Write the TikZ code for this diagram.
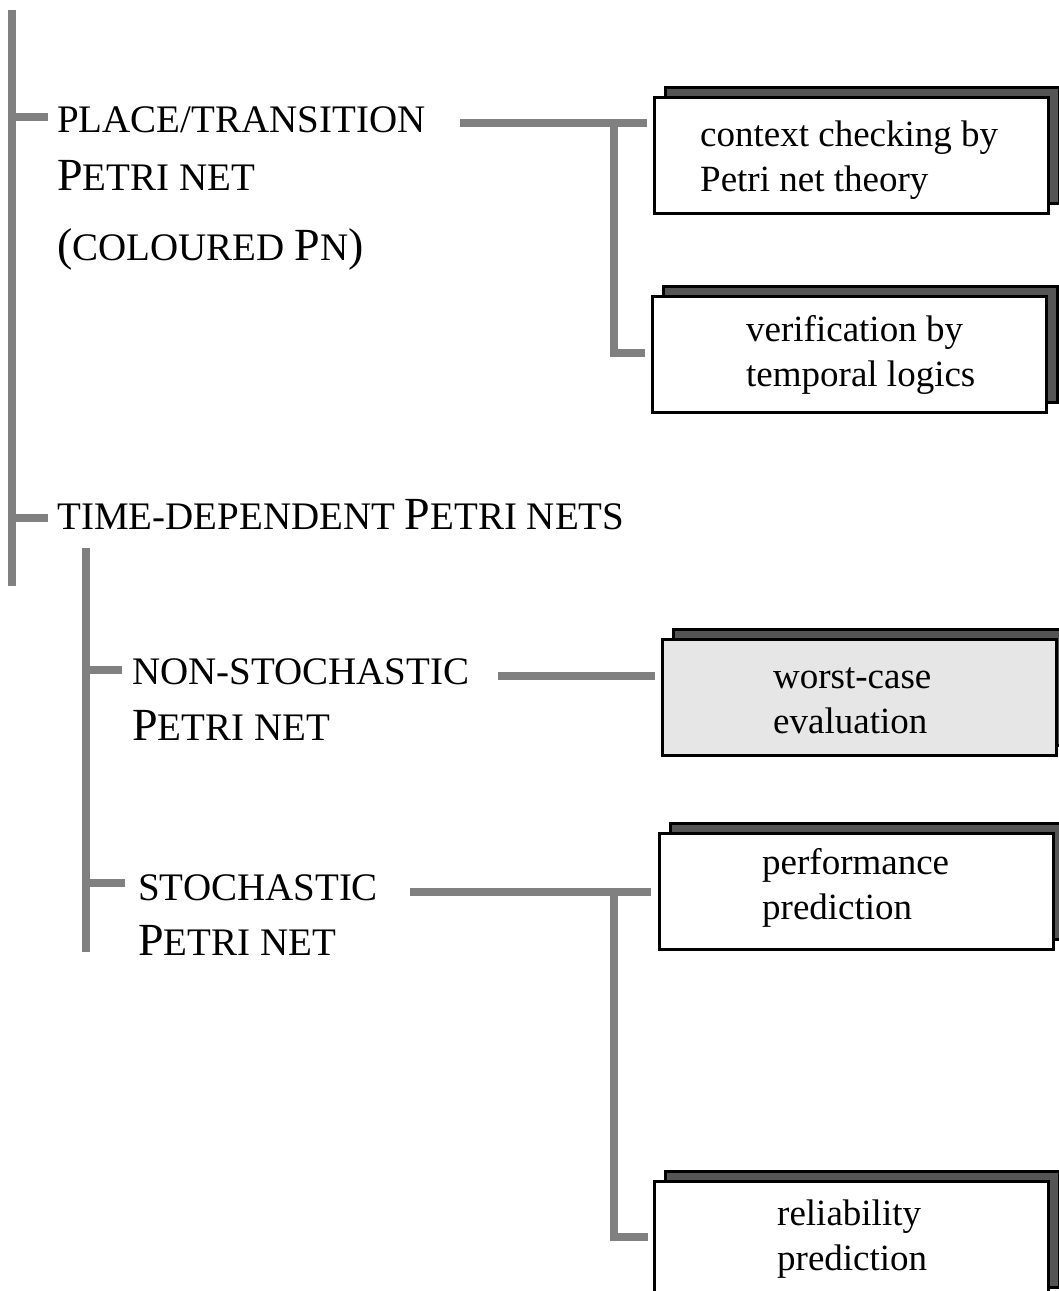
\documentclass[tikz,border=0pt]{standalone}
\usepackage{fontspec}
\setmainfont{Liberation Serif}
\usetikzlibrary{shadows,calc}
\definecolor{linegray}{HTML}{808080}
\definecolor{shadowgray}{HTML}{555555}
\definecolor{boxgray}{HTML}{E6E6E6}
\newcommand\BigC[1]{{\fontsize{46}{46}\selectfont #1}}
\newcommand\SmC[1]{{\fontsize{39}{39}\selectfont #1}}
\begin{document}
\begin{tikzpicture}[x=1pt,y=-1pt,
  conn/.style={draw=linegray, line width=8pt},
  resultbox/.style={draw=black, line width=2.5pt, fill=white, minimum width=394pt, minimum height=116pt, inner sep=0pt, anchor=north west,
    general shadow={shadow xshift=11pt, shadow yshift=10pt, fill=shadowgray, draw=black, line width=2.5pt}},
  boxtxt/.style={anchor=base west, inner sep=0pt, font=\fontsize{37}{37}\selectfont},
  cat/.style={anchor=base west, inner sep=0pt}]
\clip (0,0) rectangle (1059,1291);
\fill[white] (0,0) rectangle (1059,1291);
% category texts
\node[cat] (pt)  at (57,132) {\SmC{PLACE/TRANSITION}};
\node[cat] (pt2) at (57,190) {\BigC{P}\SmC{ETRI NET}};
\node[cat] (pt3) at (57,260) {\BigC{(}\SmC{COLOURED }\BigC{P}\SmC{N}\BigC{)}};
\node[cat] (td)  at (57,529) {\SmC{TIME-DEPENDENT }\BigC{P}\SmC{ETRI NETS}};
\node[cat] (ns)  at (132,684) {\SmC{NON-STOCHASTIC}};
\node[cat] (ns2) at (132,740) {\BigC{P}\SmC{ETRI NET}};
\node[cat] (st)  at (138,900) {\SmC{STOCHASTIC}};
\node[cat] (st2) at (138,955) {\BigC{P}\SmC{ETRI NET}};
% tree coordinates
\coordinate (m0) at (12,10);
\coordinate (m1) at (12,586);
\coordinate (mpt) at (12,117);
\coordinate (mpte) at (48,117);
\coordinate (mtd) at (12,518);
\coordinate (mtde) at (48,518);
\coordinate (s0) at (86,548);
\coordinate (s1) at (86,952);
\coordinate (sns) at (86,670);
\coordinate (snse) at (122,670);
\coordinate (sst) at (86,883);
\coordinate (sste) at (125,883);
\draw[conn] (m0) -- (m1);
\draw[conn] (mpt) -- (mpte);
\draw[conn] (mtd) -- (mtde);
\draw[conn] (s0) -- (s1);
\draw[conn] (sns) -- (snse);
\draw[conn] (sst) -- (sste);
% boxes
\node[resultbox] (b1) at (653,96) {};
\node[resultbox] (b2) at (651,295) {};
\node[resultbox, fill=boxgray] (b3) at (661,638) {};
\node[resultbox] (b4) at (658,832) {};
\node[resultbox] (b5) at (653,1180) {};
% box texts
\node[boxtxt] (t1a) at (700,146) {context checking by};
\node[boxtxt] (t1b) at (700,191) {Petri net theory};
\node[boxtxt] (t2a) at (746,341) {verification by};
\node[boxtxt] (t2b) at (746,386) {temporal logics};
\node[boxtxt] (t3a) at (773,688) {worst-case};
\node[boxtxt] (t3b) at (773,733) {evaluation};
\node[boxtxt] (t4a) at (762,874) {performance};
\node[boxtxt] (t4b) at (762,919) {prediction};
\node[boxtxt] (t5a) at (777,1225) {reliability};
\node[boxtxt] (t5b) at (777,1270) {prediction};
% connectors
\coordinate (c1) at (460,123);
\coordinate (c1v) at (614,123);
\coordinate (c1b) at (614,353);
\draw[conn] (c1) -- ($(b1.west |- c1)+(-6,0)$);
\draw[conn] (c1v) |- ($(b2.west |- c1b)+(-6,0)$);
\coordinate (c2) at (498,676);
\draw[conn] (c2) -- ($(b3.west |- c2)+(-6,0)$);
\coordinate (c3) at (410,892);
\coordinate (c3v) at (614,892);
\coordinate (c3b) at (614,1237);
\draw[conn] (c3) -- ($(b4.west |- c3)+(-7,0)$);
\draw[conn] (c3v) |- ($(b5.west |- c3b)+(-5,0)$);
\end{tikzpicture}
\end{document}
